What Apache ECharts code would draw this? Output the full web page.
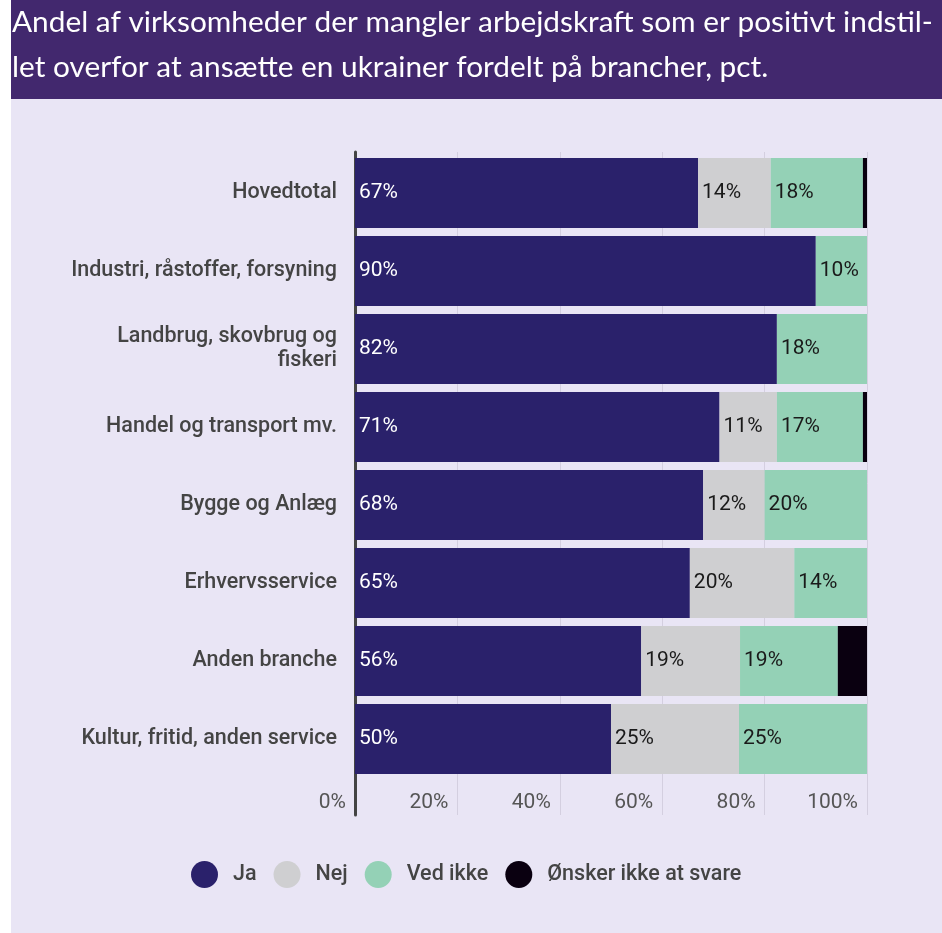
<!DOCTYPE html>
<html>
<head>
<meta charset="utf-8">
<script src="https://cdn.jsdelivr.net/npm/echarts@6/dist/echarts.min.js"></script>
<style>
html,body{margin:0;padding:0;background:#ffffff;}
#c{width:942px;height:933px;}
</style>
</head>
<body>
<div id="c"></div>
<script>
const titleLines = [
  'Andel af virksomheder der mangler arbejdskraft som er positivt indstil-',
  'let overfor at ansætte en ukrainer fordelt på brancher, pct.'
];
const categories = [
  'Hovedtotal',
  'Industri, råstoffer, forsyning',
  'Landbrug, skovbrug og\nfiskeri',
  'Handel og transport mv.',
  'Bygge og Anlæg',
  'Erhvervsservice',
  'Anden branche',
  'Kultur, fritid, anden service'
];
const seriesNames = ['Ja', 'Nej', 'Ved ikke', 'Ønsker ikke at svare'];
const ja      = [67.0, 90.0, 82.4, 71.2, 68.0, 65.4, 55.9, 50.0];
const nej     = [14.2,  0.0,  0.0, 11.2, 12.0, 20.4, 19.3, 25.0];
const vedIkke = [18.0, 10.0, 17.6, 16.8, 20.0, 14.2, 19.1, 25.0];
const oensker = [ 0.8,  0.0,  0.0,  0.8,  0.0,  0.0,  5.7,  0.0];
const xTicks = [0, 20, 40, 60, 80, 100];

const colors = ['#2a216b', '#cfcfd1', '#94d1b6', '#0a0010'];
const labelColors = ['#ffffff', '#1a1a1a', '#1a1a1a', null];
const values = [ja, nej, vedIkke, oensker];

const chart = echarts.init(document.getElementById('c'), null, {renderer: 'canvas'});

const series = values.map((arr, i) => ({
  name: seriesNames[i],
  type: 'bar',
  stack: 'total',
  xAxisIndex: 0,
  yAxisIndex: 0,
  barWidth: 70,
  data: arr,
  itemStyle: {color: colors[i]},
  label: {
    show: labelColors[i] !== null,
    position: 'insideLeft',
    distance: 4,
    fontFamily: 'Roboto',
    fontSize: 21,
    color: labelColors[i] || '#000',
    formatter: p => p.value > 0 ? Math.round(p.value) + '%' : ''
  }
}));

chart.setOption({
  backgroundColor: '#ffffff',
  animation: false,
  graphic: [
    {type: 'rect', left: 11, top: 0, z: -10, shape: {width: 931, height: 99}, style: {fill: '#42286e'}},
    {type: 'rect', left: 11, top: 99, z: -10, shape: {width: 931, height: 834}, style: {fill: '#e9e5f5'}},
    {type: 'text', x: 12, y: 22, style: {text: titleLines[0], fill: '#ffffff', font: '29.8px Lato', textVerticalAlign: 'middle'}},
    {type: 'text', x: 12, y: 67, style: {text: titleLines[1], fill: '#ffffff', font: '29.8px Lato', textVerticalAlign: 'middle'}}
  ],
  legend: {
    data: seriesNames,
    icon: 'circle',
    left: 186,
    top: 856,
    itemWidth: 27,
    itemHeight: 27,
    itemGap: 17,
    textStyle: {fontFamily: 'Roboto', fontSize: 21.5, fontWeight: 500, color: '#444444', padding: [0, 0, 0, 10]}
  },
  grid: [
    {left: 355, right: 75, top: 154, height: 624},
    {left: 355, right: 75, top: 152, bottom: 118}
  ],
  xAxis: [
    {gridIndex: 0, type: 'value', min: 0, max: 100, interval: 20, show: false},
    {gridIndex: 1, type: 'value', min: 0, max: 100, interval: 20,
      axisLine: {show: false}, axisTick: {show: false},
      splitLine: {show: true, lineStyle: {color: '#d4cfe0', width: 1}},
      axisLabel: {inside: true, align: 'right', margin: 2, padding: [0, 9, 0, 0],
        fontFamily: 'Roboto', fontSize: 21, color: '#555555',
        customValues: xTicks,
        formatter: v => v + '%'}
    }
  ],
  yAxis: [
    {gridIndex: 0, type: 'category', inverse: true, data: categories,
      axisLine: {show: false}, axisTick: {show: false},
      axisLabel: {margin: 18, fontFamily: 'Roboto', fontSize: 21.5, fontWeight: 500, color: '#444444', lineHeight: 24, align: 'right'}
    },
    {gridIndex: 1, type: 'value', min: 0, max: 1,
      axisLine: {show: true, lineStyle: {color: '#444444', width: 3}},
      axisTick: {show: false}, axisLabel: {show: false}, splitLine: {show: false}
    }
  ],
  series: series
});
</script>
</body>
</html>
